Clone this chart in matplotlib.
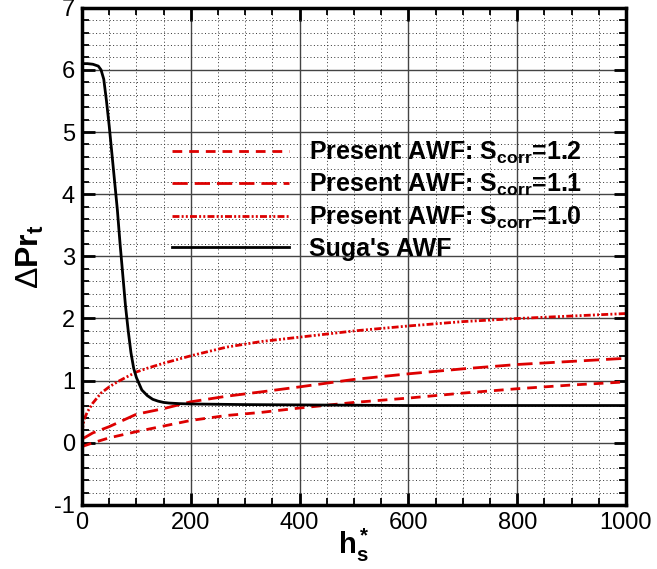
import matplotlib
matplotlib.use("Agg")
import matplotlib.pyplot as plt
from matplotlib.ticker import MultipleLocator

plt.rcParams['font.family'] = ['Liberation Sans', 'DejaVu Sans']
plt.rcParams['mathtext.fontset'] = 'custom'
plt.rcParams['mathtext.rm'] = 'Liberation Sans'
plt.rcParams['mathtext.bf'] = 'Liberation Sans:bold'
plt.rcParams['mathtext.it'] = 'Liberation Sans:bold'
plt.rcParams['mathtext.default'] = 'bf'
plt.rcParams['axes.unicode_minus'] = False

x_suga = [0, 10, 20, 30, 35, 40, 45, 50, 55, 60, 65, 70, 75, 80, 85, 90, 95, 100,
          110, 120, 130, 140, 150, 160, 180, 200, 300, 400, 500, 600, 800, 1000]
y_suga = [6.10, 6.10, 6.09, 6.06, 6.00, 5.85, 5.50, 5.10, 4.65, 4.20, 3.75, 3.20,
          2.70, 2.20, 1.80, 1.45, 1.20, 1.05, 0.85, 0.76, 0.70, 0.67, 0.65, 0.64,
          0.63, 0.625, 0.615, 0.61, 0.605, 0.60, 0.60, 0.60]

x_s10 = [0, 2, 5, 10, 20, 35, 50, 65, 80, 100, 120, 150, 200, 266, 330, 400,
         500, 600, 700, 800, 900, 1000]
y_s10 = [0.10, 0.30, 0.40, 0.50, 0.64, 0.80, 0.90, 0.98, 1.05, 1.14, 1.20, 1.28,
         1.40, 1.54, 1.63, 1.70, 1.80, 1.88, 1.95, 2.00, 2.04, 2.08]

x_s11 = [0, 20, 50, 100, 150, 200, 266, 330, 400, 500, 600, 700, 800, 900, 1000]
y_s11 = [0.06, 0.16, 0.26, 0.46, 0.55, 0.66, 0.75, 0.82, 0.90, 1.02, 1.11, 1.19,
         1.26, 1.31, 1.36]

x_s12 = [0, 20, 50, 100, 150, 200, 266, 330, 400, 500, 600, 700, 800, 900, 1000]
y_s12 = [-0.06, 0.00, 0.08, 0.18, 0.27, 0.36, 0.44, 0.49, 0.56, 0.65, 0.72, 0.80,
         0.87, 0.93, 0.98]

red = '#dd0000'

fig = plt.figure(figsize=(6.57, 5.69), dpi=100)
ax = fig.add_axes([0.1248, 0.1125, 0.828, 0.874])

ax.plot(x_s12, y_s12, color=red, lw=2, ls=(0, (3.5, 2.5)),
        label='Present AWF: S$_{corr}$=1.2')
ax.plot(x_s11, y_s11, color=red, lw=2, ls=(0, (5.5, 2.5)),
        label='Present AWF: S$_{corr}$=1.1')
ax.plot(x_s10, y_s10, color=red, lw=2, ls=(0, (2.5, 0.8, 0.7, 0.8, 0.7, 0.8)),
        label='Present AWF: S$_{corr}$=1.0')
ax.plot(x_suga, y_suga, color='black', lw=2, label="Suga's AWF")

ax.set_xlim(0, 1000)
ax.set_ylim(-1, 7)
ax.xaxis.set_major_locator(MultipleLocator(200))
ax.xaxis.set_minor_locator(MultipleLocator(50))
ax.yaxis.set_major_locator(MultipleLocator(1))
ax.yaxis.set_minor_locator(MultipleLocator(0.2))

ax.grid(which='major', color='#444444', lw=1.0, ls='-')
ax.grid(which='minor', color='#333333', lw=0.7, ls=(0, (1, 2.5)))
ax.set_axisbelow(True)

ax.tick_params(which='both', direction='in', top=True, right=True,
               labelsize=17, pad=5)
ax.tick_params(which='major', length=9, width=2)
ax.tick_params(which='minor', length=5, width=1.3)
for s in ax.spines.values():
    s.set_linewidth(2.5)

ax.set_xlabel(r'$h_s^*$', fontsize=21, labelpad=-5)
ax.set_ylabel(r'$\mathrm{\Delta}Pr_t$', fontsize=23, labelpad=6)

ax.legend(loc='upper left', bbox_to_anchor=(0.165, 0.735), frameon=False,
          handlelength=4.7, handletextpad=0.8, labelspacing=0.25,
          borderpad=0, borderaxespad=0, prop={'weight': 'bold', 'size': 18})

fig.savefig('out.png', dpi=100)
